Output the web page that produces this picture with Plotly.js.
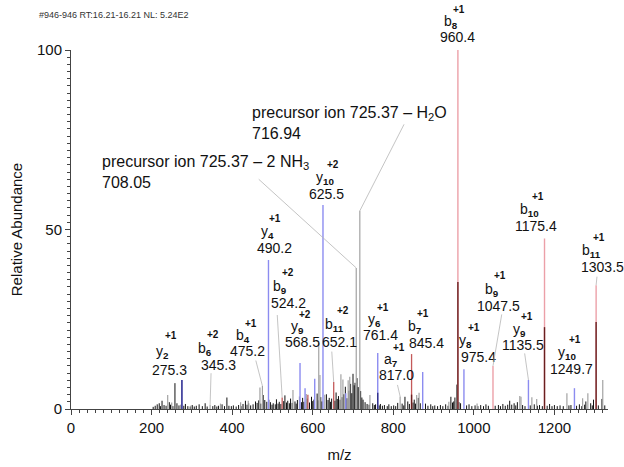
<!DOCTYPE html>
<html>
<head>
<meta charset="utf-8">
<script src="https://cdn.plot.ly/plotly-3.0.1.min.js"></script>
<style>
  html, body { margin: 0; padding: 0; background: #fff; }
  #chart { width: 624px; height: 467px; }
</style>
</head>
<body>
<div id="chart"></div>
<script>
// ---- spectrum data: m/z and relative abundance (%) ----

// raw spectrum background peaks
const rawMz = [
  204, 209, 214, 219, 222, 226, 231, 236, 244, 247,
  253, 258, 263, 268, 280, 284, 290, 296, 301, 306,
  311, 318, 326, 333, 338, 352, 357, 362, 366, 375,
  381, 387, 392, 398, 403, 410, 416, 422, 427, 433,
  437, 441, 446, 452, 458, 462, 466, 471, 477, 481,
  486, 495, 499, 502, 507, 510, 514, 517, 521, 528,
  531, 535, 538, 542, 545, 549, 556, 559, 562, 572,
  575, 578, 586, 592, 597, 600, 603, 611, 614, 620,
  623, 634, 638, 641, 644, 647, 655, 658, 661, 664,
  668, 673, 677, 681, 685, 690, 694, 697, 700, 703,
  705, 710, 713, 719, 722, 725, 730, 735, 740, 749,
  753, 756, 765, 768, 773, 778, 785, 789, 795, 801,
  806, 811, 822, 826, 829, 836, 840, 849, 852, 855,
  862, 867, 880, 886, 893, 898, 903, 910, 917, 923,
  930, 936, 943, 947, 950, 953, 958, 963, 967, 982,
  988, 995, 1003, 1010, 1017, 1024, 1030, 1036, 1053, 1061,
  1066, 1072, 1078, 1084, 1089, 1094, 1100, 1104, 1108, 1121,
  1127, 1140, 1150, 1158, 1163, 1170, 1182, 1188, 1194, 1200,
  1207, 1214, 1222, 1236, 1241, 1255, 1262, 1268, 1275, 1278,
  1290, 1294, 1297, 1309, 1318, 1325
];
const rawInt = [
  0.6, 0.9, 1.3, 1.6, 0.8, 2.3, 1.1, 0.9, 1.9, 1.2,
  0.8, 7.2, 1.6, 1.0, 0.9, 1.4, 0.8, 0.7, 1.1, 0.7,
  0.9, 1.3, 0.8, 1.6, 0.7, 0.8, 1.1, 0.7, 0.9, 1.3,
  0.8, 3.2, 0.9, 0.8, 1.0, 0.7, 1.1, 0.8, 1.4, 2.3,
  1.2, 1.6, 1.0, 1.3, 2.1, 1.7, 2.4, 1.5, 3.9, 2.5,
  2.0, 1.9, 1.2, 1.6, 1.3, 2.7, 1.5, 2.0, 1.4, 2.2,
  3.8, 1.8, 2.3, 1.6, 2.9, 1.7, 2.1, 1.5, 2.5, 1.9,
  3.1, 2.0, 2.9, 1.8, 3.4, 2.2, 2.6, 4.3, 2.4, 3.3,
  2.1, 4.1, 2.5, 3.1, 2.0, 2.9, 2.3, 4.6, 2.8, 3.6,
  2.6, 3.3, 4.1, 6.2, 3.0, 5.1, 7.0, 4.4, 9.8, 6.6,
  7.3, 8.6, 6.1, 5.0, 3.2, 2.6, 1.9, 1.4, 1.2, 1.6,
  1.1, 1.3, 1.0, 1.4, 0.9, 1.1, 0.8, 1.3, 0.8, 1.0,
  0.8, 1.7, 1.5, 1.0, 3.4, 2.1, 1.4, 1.8, 2.6, 1.5,
  3.1, 1.6, 1.5, 0.9, 1.3, 0.8, 1.0, 0.8, 1.1, 0.8,
  1.3, 0.9, 3.4, 1.8, 2.1, 3.2, 6.8, 1.9, 1.6, 1.0,
  1.3, 0.8, 1.0, 0.8, 1.1, 0.8, 1.3, 0.9, 0.9, 1.1,
  0.8, 1.4, 0.9, 1.2, 2.3, 1.2, 1.6, 1.0, 1.9, 1.1,
  0.8, 1.0, 1.3, 0.9, 1.1, 0.8, 0.9, 1.4, 0.8, 1.1,
  0.8, 1.0, 0.8, 1.0, 1.1, 0.9, 1.3, 0.8, 1.2, 2.1,
  1.6, 1.0, 2.6, 1.0, 2.8, 1.0
];

// unassigned / neutral-loss peaks (grey)
const minorMz = [
  240, 250, 272, 298, 345.3, 371, 421, 440, 469, 475.2,
  492, 551, 567, 584, 615, 618, 630, 670, 675, 688,
  692, 708.05, 716.94, 742, 817.0, 858, 864, 938, 1008, 1114,
  1117, 1144, 1156, 1231, 1270, 1283, 1320
];
const minorInt = [
  3.9, 1.8, 1.2, 1.0, 1.2, 1.5, 1.9, 2.3, 6.0, 6.4,
  2.6, 5.3, 3.5, 4.2, 18.4, 9.5, 4.0, 9.7, 8.2, 8.0,
  9.0, 39.3, 55.2, 3.9, 3.5, 3.9, 4.5, 2.0, 1.5, 3.6,
  3.4, 3.3, 2.8, 4.4, 3.0, 4.4, 8.1
];

// y-ion series
const yIonMz  = [275.3, 490.2, 568.5, 581, 605, 625.5, 682, 761.4, 873, 975.4, 1135.5, 1249.7];
const yIonInt = [8.1, 41.5, 12.8, 5.8, 8.4, 56.8, 4.4, 15.6, 10.3, 11.1, 8.1, 5.8];

// b-ion series, strong singly charged
const bIonMz  = [960.4, 1047.5, 1175.4, 1303.5];
const bIonInt = [100, 12.0, 47.5, 34.5];

// b-ion series, other
const bIon2Mz  = [524.2, 588, 652.1, 845.4];
const bIon2Int = [3.2, 4.0, 7.5, 15.3];

// overlapping raw intensity under assigned peaks
const yOverlapMz  = [275.3, 761.4];
const yOverlapInt = [8.1, 4.5];
const bOverlapMz  = [845.4, 960.4, 1175.4, 1303.5];
const bOverlapInt = [4.0, 35.4, 22.8, 24.2];

// fragment labels
const labelMz     = [275.3, 345.3, 475.2, 490.2, 524.2, 568.5, 625.5, 652.1, 761.4,
                     817.0, 845.4, 960.4, 975.4, 1047.5, 1135.5, 1175.4, 1249.7, 1303.5];
const labelIon    = ['y', 'b', 'b', 'y', 'b', 'y', 'y', 'b', 'y',
                     'a', 'b', 'b', 'y', 'b', 'y', 'b', 'y', 'b'];
const labelNum    = ['2', '6', '4', '4', '9', '9', '10', '11', '6',
                     '7', '7', '8', '8', '9', '9', '10', '10', '11'];
const labelCharge = ['+1', '+2', '+1', '+1', '+2', '+2', '+2', '+2', '+1',
                     '+1', '+1', '+1', '+1', '+1', '+1', '+1', '+1', '+1'];

// precursor neutral losses
const precursorMz = 725.37;
const lossNames   = ['H<sub>2</sub>O', '2 NH<sub>3</sub>'];
const lossMz      = [716.94, 708.05];

const scanHeader = '#946-946 RT:16.21-16.21 NL: 5.24E2';

// ---- label placement (pixel offsets of the value text from the peak top) ----
const labelDx  = [-12, 8, -15, 6, 6, 2, 4, 6, 3, -4, 15, 0, 15, 6, -5, -9, -3, 6];
const labelDy  = [-10, -40, -35, -12, -95, -21, -11, -40, -18, -21, -11, -13, -12, -60, -35, -12, -19, -18];
// vertical spacing between the value, ion and charge rows
const labelGap = [18, 16, 15, 16, 16, 15, 16, 17, 15, 15, 16, 15, 16, 16, 15, 16, 16, 16];
// horizontal offset of the ion name from the value text
const ionDx    = [-7, -13, -4, -7, -8, -5, -2, -5, -6, -5, -12, -7, -13, -7, -4, -6, -4, -11];
// leader line tails (pixel offsets from the peak top), null = no leader
const leaderAx = [null, 1, -7, null, -5, null, null, -2, null, -3, null, null, null, 9, -4, null, null, 1];
const leaderAy = [null, -33, -27, null, -84, null, null, -32, null, -13, null, null, null, -53, -28, null, null, -10];
const lossShiftX = [-110, -256];
const lossShiftY = [88, 96];
const lossAx = [45, -99];
const lossAy = [-88, -90];

// ---- helpers ----
function sticks(mz, inten) {
  const x = [], y = [];
  mz.forEach((m, i) => { x.push(m, m, null); y.push(0, inten[i], null); });
  return { x, y };
}
function stickTrace(mz, inten, color, width) {
  const s = sticks(mz, inten);
  return {
    type: 'scatter', mode: 'lines', x: s.x, y: s.y,
    line: { color: color, width: width }, hoverinfo: 'skip', connectgaps: false
  };
}
const allMz  = [].concat(rawMz, minorMz, yIonMz, bIonMz, bIon2Mz);
const allInt = [].concat(rawInt, minorInt, yIonInt, bIonInt, bIon2Int);
function peakHeight(mz) {
  let best = 0;
  allMz.forEach((m, i) => { if (Math.abs(m - mz) < 0.01 && allInt[i] > best) best = allInt[i]; });
  return best;
}

const traces = [
  stickTrace(rawMz, rawInt, '#111111', 1),
  stickTrace(minorMz, minorInt, '#a3a3a3', 1.2),
  stickTrace(yIonMz, yIonInt, '#8c8cf0', 1.4),
  stickTrace(bIonMz, bIonInt, '#eca0a8', 1.4),
  stickTrace(bIon2Mz, bIon2Int, '#c45a5a', 1.3),
  stickTrace(yOverlapMz, yOverlapInt, '#33338a', 1.4),
  stickTrace(bOverlapMz, bOverlapInt, '#6a1f1f', 1.4)
];

const FONT = 'Liberation Sans, Arial, sans-serif';
const annotations = [];

// fragment ion labels: charge, ion name with index, m/z value
labelMz.forEach((m, i) => {
  const h = peakHeight(m);
  const dx = labelDx[i], dy = labelDy[i], g = labelGap[i];
  const base = { x: m, y: h, xref: 'x', yref: 'y', showarrow: false,
                 xanchor: 'center', yanchor: 'middle' };
  annotations.push(Object.assign({}, base, {
    text: m.toFixed(1), xshift: dx, yshift: -dy,
    font: { family: FONT, size: 14, color: '#111' }
  }));
  annotations.push(Object.assign({}, base, {
    text: labelIon[i] + '<sub><b>' + labelNum[i] + '</b></sub>',
    xshift: dx + ionDx[i], yshift: -dy + g,
    font: { family: FONT, size: 14, color: '#111' }
  }));
  annotations.push(Object.assign({}, base, {
    text: '<b>' + labelCharge[i] + '</b>',
    xshift: dx + ionDx[i] + 8, yshift: -dy + 2 * g - 2,
    font: { family: FONT, size: 10, color: '#111' }
  }));
  if (leaderAx[i] !== null) {
    annotations.push({
      x: m, y: h, xref: 'x', yref: 'y', text: '', showarrow: true,
      ax: leaderAx[i], ay: leaderAy[i], arrowhead: 0, arrowwidth: 0.8,
      arrowcolor: '#b5b5b5', standoff: 0, startstandoff: 0
    });
  }
});

// precursor neutral-loss labels
lossMz.forEach((m, i) => {
  const h = peakHeight(m);
  annotations.push({
    x: m, y: h, xref: 'x', yref: 'y', showarrow: false,
    text: 'precursor ion ' + precursorMz.toFixed(2) + ' \u2013 ' + lossNames[i] + '<br>' + m.toFixed(2),
    align: 'left', xanchor: 'left', yanchor: 'middle',
    xshift: lossShiftX[i], yshift: lossShiftY[i],
    font: { family: FONT, size: 16, color: '#111' }
  });
  annotations.push({
    x: m, y: h, xref: 'x', yref: 'y', text: '', showarrow: true,
    ax: lossAx[i], ay: lossAy[i], arrowhead: 0, arrowwidth: 0.8,
    arrowcolor: '#b5b5b5', standoff: 0, startstandoff: 0
  });
});

// scan header
annotations.push({
  xref: 'paper', yref: 'paper', x: -0.0633, y: 1.0975,
  xanchor: 'left', yanchor: 'middle', showarrow: false,
  text: scanHeader, font: { family: FONT, size: 9, color: '#333' }
});

const layout = {
  width: 624, height: 467,
  margin: { l: 71, r: 16, t: 50, b: 58 },
  paper_bgcolor: '#fff', plot_bgcolor: '#fff',
  showlegend: false,
  font: { family: FONT, size: 15, color: '#111' },
  xaxis: {
    range: [0, 1333], tick0: 0, dtick: 200,
    ticks: 'outside', ticklen: 5, tickwidth: 1, tickcolor: '#444',
    minor: { dtick: 20, ticks: 'outside', ticklen: 3, tickcolor: '#444', tickwidth: 1 },
    showline: true, linecolor: '#444', linewidth: 1,
    showgrid: false, zeroline: false,
    tickfont: { family: FONT, size: 15, color: '#111' },
    title: { text: 'm/z', font: { family: FONT, size: 15, color: '#111' }, standoff: 14 }
  },
  yaxis: {
    range: [0, 100], tick0: 0, dtick: 50,
    ticks: 'outside', ticklen: 5, tickwidth: 1, tickcolor: '#444',
    minor: { dtick: 2, ticks: 'outside', ticklen: 3, tickcolor: '#444', tickwidth: 1 },
    showline: true, linecolor: '#444', linewidth: 1,
    showgrid: false, zeroline: false,
    tickfont: { family: FONT, size: 15, color: '#111' },
    title: { text: 'Relative Abundance', font: { family: FONT, size: 15, color: '#111' }, standoff: 10 }
  },
  annotations: annotations
};

Plotly.newPlot('chart', traces, layout, { displayModeBar: false, staticPlot: true });
</script>
</body>
</html>
